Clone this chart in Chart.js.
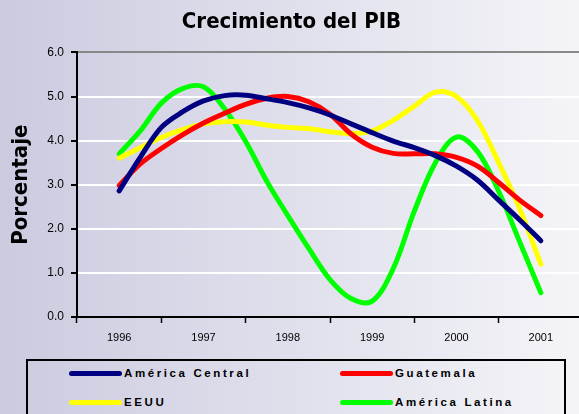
<!DOCTYPE html>
<html>
<head>
<meta charset="utf-8">
<script src="https://cdn.jsdelivr.net/npm/chart.js@4"></script>
<style>
  html, body { margin: 0; padding: 0; }
  body {
    width: 579px; height: 414px; overflow: hidden; position: relative;
    background: linear-gradient(to right, #cbcbe0, #f4f4f8);
  }
  #wrap { position: absolute; left: 0; top: 0; width: 583px; height: 350px; }
  #legend {
    position: absolute; left: 26px; top: 359px; width: 536px; height: 70px;
    border: 2px solid #000;
  }
  .item {
    position: absolute; height: 20px; display: flex; align-items: center;
    font: bold 11.5px "Liberation Sans", Arial, sans-serif; letter-spacing: 2.6px; color: #000;
  }
  .swatch { width: 53px; height: 5px; border-radius: 3px; margin-right: 2px; }
</style>
</head>
<body>
<div id="wrap"><canvas id="pibChart"></canvas></div>
<div id="legend"></div>
<script>
// years shown on the axis, series are quarterly from 1996 to 2001
const years = ['1996', '1997', '1998', '1999', '2000', '2001'];
const periodos = [
  '1996-I', '1996-II', '1996-III', '1996-IV',
  '1997-I', '1997-II', '1997-III', '1997-IV',
  '1998-I', '1998-II', '1998-III', '1998-IV',
  '1999-I', '1999-II', '1999-III', '1999-IV',
  '2000-I', '2000-II', '2000-III', '2000-IV',
  '2001-I'
];

const americaCentral = [2.86, 3.62, 4.30, 4.65, 4.90, 5.02, 5.03, 4.95, 4.86, 4.74, 4.58,
  4.38, 4.18, 3.99, 3.84, 3.66, 3.42, 3.10, 2.65, 2.20, 1.73];
const guatemala = [2.98, 3.47, 3.82, 4.13, 4.40, 4.62, 4.82, 4.96, 5.00, 4.88, 4.60,
  4.15, 3.85, 3.71, 3.70, 3.70, 3.62, 3.42, 3.05, 2.65, 2.30];
const eeuu = [3.60, 3.84, 4.07, 4.25, 4.38, 4.43, 4.42, 4.35, 4.30, 4.27, 4.20,
  4.16, 4.22, 4.46, 4.78, 5.10, 5.00, 4.45, 3.50, 2.45, 1.20];
const americaLatina = [3.70, 4.22, 4.85, 5.18, 5.22, 4.72, 3.98, 3.08, 2.30, 1.55, 0.85,
  0.42, 0.36, 1.10, 2.40, 3.50, 4.08, 3.75, 2.85, 1.70, 0.55];

const yTicks = [0, 1, 2, 3, 4, 5, 6];

const toPoints = arr => arr.map((v, i) => ({ x: i, y: v }));

const series = [
  { label: 'América Central', data: americaCentral, color: '#000080' },
  { label: 'Guatemala', data: guatemala, color: '#ff0000' },
  { label: 'EEUU', data: eeuu, color: '#ffff00' },
  { label: 'América Latina', data: americaLatina, color: '#00ff00' },
];

const sans = '"Liberation Sans", Arial, sans-serif';
const titleFamily = '"DejaVu Sans Condensed", "DejaVu Sans", sans-serif';

const ctx = document.getElementById('pibChart').getContext('2d');
const chart = new Chart(ctx, {
  type: 'line',
  data: {
    datasets: series.map(s => ({
      label: s.label,
      data: toPoints(s.data),
      borderColor: s.color,
      backgroundColor: s.color,
      borderWidth: 5,
      pointRadius: 0,
      tension: 0.35,
      borderCapStyle: 'round',
      borderJoinStyle: 'round',
      xAxisID: 'x',
      yAxisID: 'y',
    })),
  },
  options: {
    responsive: true,
    maintainAspectRatio: false,
    animation: false,
    layout: { padding: 0 },
    plugins: {
      legend: { display: false },
      tooltip: { enabled: false },
      title: {
        display: true,
        text: 'Crecimiento del PIB',
        color: '#000',
        font: { family: titleFamily, size: 22, weight: 'bold' },
        padding: { top: 9, bottom: 17 },
      },
    },
    scales: {
      x: {
        type: 'linear',
        display: false,
        min: -2,
        max: periodos.length + 1,
      },
      x2: {
        type: 'category',
        labels: years,
        position: 'bottom',
        offset: true,
        grid: { offset: true, drawOnChartArea: false, tickLength: 6, tickColor: '#000', tickWidth: 1.5 },
        border: { color: '#000', width: 2 },
        ticks: { color: '#000', font: { family: sans, size: 11 }, padding: 8, maxRotation: 0 },
        afterFit: s => { s.height = 33; },
      },
      y: {
        min: 0,
        max: 6,
        afterBuildTicks: s => { s.ticks = yTicks.map(v => ({ value: v })); },
        grid: {
          color: c => (c.tick.value === 6 ? '#888' : (c.tick.value === 0 ? 'rgba(0,0,0,0)' : '#fff')),
          lineWidth: 2,
          tickColor: '#000',
          tickLength: 6,
        },
        border: { color: '#000', width: 2 },
        ticks: { color: '#000', font: { family: sans, size: 12 }, padding: 7, callback: v => v.toFixed(1) },
        title: {
          display: true,
          text: 'Porcentaje',
          color: '#000',
          font: { family: titleFamily, size: 22, weight: 'bold' },
          padding: { top: 8, bottom: 0 },
        },
        afterFit: s => { s.width = 77; },
      },
    },
  },
});

// legend box under the chart, two columns
const legendPos = [[41, 2], [312, 2], [41, 31], [312, 31]];
const legendEl = document.getElementById('legend');
chart.data.datasets.forEach((ds, i) => {
  const item = document.createElement('div');
  item.className = 'item';
  item.style.left = legendPos[i][0] + 'px';
  item.style.top = legendPos[i][1] + 'px';
  const sw = document.createElement('span');
  sw.className = 'swatch';
  sw.style.background = ds.borderColor;
  const txt = document.createElement('span');
  txt.textContent = ds.label;
  item.appendChild(sw);
  item.appendChild(txt);
  legendEl.appendChild(item);
});
</script>
</body>
</html>
